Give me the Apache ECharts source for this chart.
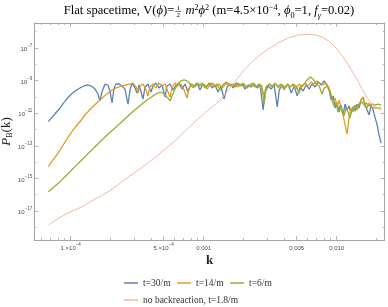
<!DOCTYPE html>
<html><head><meta charset="utf-8">
<script src="https://cdn.jsdelivr.net/npm/echarts@6/dist/echarts.min.js"></script>
<style>html,body{margin:0;padding:0;background:#fff}#c{width:388px;height:307px}</style>
</head><body><div id="c"></div><script>
// ---- data: [log10 k, log10 P_B(k)] ----
const blue = [[-4.168,-11.52],[-4.141,-11.26],[-4.111,-10.97],[-4.080,-10.68],[-4.050,-10.34],[-4.020,-10.04],[-3.990,-9.79],[-3.960,-9.61],[-3.930,-9.45],[-3.900,-9.33],[-3.870,-9.27],[-3.840,-9.36],[-3.817,-9.52],[-3.795,-9.82],[-3.780,-10.25],[-3.765,-9.70],[-3.742,-9.21],[-3.720,-9.27],[-3.705,-9.64],[-3.689,-10.37],[-3.674,-9.45],[-3.659,-9.21],[-3.637,-9.21],[-3.614,-9.33],[-3.592,-9.52],[-3.569,-10.44],[-3.554,-9.58],[-3.539,-9.15],[-3.517,-9.45],[-3.501,-9.76],[-3.486,-9.27],[-3.471,-9.33],[-3.456,-10.13],[-3.441,-9.39],[-3.419,-9.21],[-3.396,-9.70],[-3.381,-9.33],[-3.359,-9.15],[-3.336,-9.45],[-3.313,-9.27],[-3.291,-10.01],[-3.276,-9.33],[-3.253,-9.21],[-3.231,-9.58],[-3.208,-9.27],[-3.186,-9.15],[-3.163,-9.52],[-3.140,-9.21],[-3.118,-9.70],[-3.095,-9.21],[-3.073,-9.33],[-3.050,-9.15],[-3.028,-9.58],[-3.005,-9.21],[-2.982,-9.39],[-2.960,-9.15],[-2.937,-9.45],[-2.915,-9.27],[-2.892,-9.70],[-2.870,-9.33],[-2.847,-10.13],[-2.824,-9.39],[-2.802,-9.21],[-2.779,-9.45],[-2.756,-9.15],[-2.734,-9.33],[-2.711,-9.21],[-2.689,-9.52],[-2.666,-9.27],[-2.644,-9.39],[-2.621,-9.21],[-2.598,-9.45],[-2.576,-9.27],[-2.553,-10.80],[-2.538,-9.70],[-2.515,-9.33],[-2.493,-9.52],[-2.470,-9.27],[-2.447,-10.62],[-2.432,-9.58],[-2.410,-9.27],[-2.387,-9.45],[-2.365,-9.21],[-2.342,-9.76],[-2.319,-9.33],[-2.297,-9.94],[-2.275,-9.39],[-2.252,-9.64],[-2.230,-9.27],[-2.207,-9.52],[-2.185,-9.21],[-2.162,-9.39],[-2.139,-9.09],[-2.117,-9.27],[-2.094,-9.02],[-2.072,-9.33],[-2.057,-9.58],[-2.042,-10.19],[-2.027,-9.94],[-2.012,-10.68],[-1.997,-10.37],[-1.982,-10.93],[-1.967,-10.50],[-1.952,-11.11],[-1.937,-10.44],[-1.922,-10.80],[-1.907,-10.56],[-1.892,-10.99],[-1.877,-10.62],[-1.862,-10.87],[-1.847,-10.44],[-1.832,-10.68],[-1.817,-10.19],[-1.801,-10.01],[-1.786,-10.56],[-1.771,-10.80],[-1.756,-11.11],[-1.741,-10.50],[-1.726,-10.80],[-1.711,-11.29],[-1.696,-11.72],[-1.681,-12.34],[-1.666,-12.83]];
const orange = [[-4.168,-14.28],[-4.141,-13.96],[-4.111,-13.63],[-4.080,-13.26],[-4.043,-12.77],[-4.005,-12.28],[-3.968,-11.88],[-3.930,-11.51],[-3.892,-11.11],[-3.855,-10.77],[-3.817,-10.47],[-3.780,-10.19],[-3.742,-9.91],[-3.705,-9.67],[-3.667,-9.48],[-3.629,-9.36],[-3.592,-9.27],[-3.554,-9.21],[-3.532,-9.15],[-3.508,-9.39],[-3.493,-9.76],[-3.479,-9.33],[-3.456,-9.21],[-3.434,-9.58],[-3.419,-9.94],[-3.404,-9.39],[-3.381,-9.21],[-3.359,-9.45],[-3.336,-9.15],[-3.313,-9.33],[-3.291,-9.21],[-3.268,-9.70],[-3.253,-10.01],[-3.238,-9.39],[-3.216,-9.15],[-3.193,-9.33],[-3.171,-9.21],[-3.148,-9.58],[-3.125,-10.07],[-3.110,-9.45],[-3.088,-9.21],[-3.065,-9.39],[-3.043,-9.15],[-3.020,-9.33],[-2.997,-9.21],[-2.975,-9.52],[-2.952,-9.27],[-2.930,-9.15],[-2.907,-9.39],[-2.885,-9.21],[-2.862,-9.45],[-2.840,-9.27],[-2.817,-9.15],[-2.794,-9.33],[-2.772,-9.21],[-2.749,-9.39],[-2.727,-9.27],[-2.704,-9.15],[-2.681,-9.45],[-2.659,-9.27],[-2.636,-9.21],[-2.614,-9.39],[-2.591,-9.27],[-2.568,-9.45],[-2.546,-9.88],[-2.531,-9.39],[-2.508,-9.21],[-2.485,-9.33],[-2.463,-9.15],[-2.440,-9.45],[-2.418,-9.27],[-2.395,-9.58],[-2.372,-9.21],[-2.350,-9.39],[-2.327,-9.27],[-2.305,-9.52],[-2.282,-9.21],[-2.260,-9.39],[-2.237,-9.15],[-2.215,-9.33],[-2.192,-9.09],[-2.170,-9.21],[-2.147,-9.02],[-2.125,-9.15],[-2.102,-9.27],[-2.079,-9.15],[-2.057,-9.45],[-2.042,-9.88],[-2.027,-10.31],[-2.012,-10.07],[-1.997,-10.56],[-1.982,-10.19],[-1.967,-10.68],[-1.952,-11.11],[-1.937,-11.72],[-1.922,-12.28],[-1.907,-11.29],[-1.892,-10.68],[-1.877,-10.93],[-1.862,-10.50],[-1.847,-10.80],[-1.832,-10.44],[-1.817,-10.19],[-1.801,-10.01],[-1.786,-10.44],[-1.771,-10.68],[-1.756,-10.37],[-1.741,-10.62],[-1.726,-10.50],[-1.711,-10.68],[-1.696,-10.62],[-1.681,-10.68],[-1.666,-10.68]];
const green = [[-4.168,-15.82],[-4.118,-15.47],[-4.080,-15.20],[-4.043,-14.90],[-4.005,-14.59],[-3.968,-14.28],[-3.930,-13.98],[-3.892,-13.67],[-3.855,-13.36],[-3.817,-13.06],[-3.780,-12.77],[-3.742,-12.46],[-3.705,-12.18],[-3.667,-11.91],[-3.629,-11.63],[-3.577,-11.23],[-3.532,-10.90],[-3.479,-10.53],[-3.426,-10.19],[-3.381,-9.94],[-3.351,-9.79],[-3.321,-9.70],[-3.298,-9.82],[-3.276,-10.01],[-3.253,-10.25],[-3.238,-9.94],[-3.216,-9.52],[-3.193,-9.21],[-3.171,-9.02],[-3.148,-8.96],[-3.125,-9.02],[-3.103,-9.21],[-3.080,-9.45],[-3.058,-9.21],[-3.035,-9.33],[-3.013,-9.15],[-2.990,-9.45],[-2.967,-9.27],[-2.945,-9.15],[-2.922,-9.39],[-2.900,-9.21],[-2.877,-9.58],[-2.855,-9.27],[-2.832,-9.09],[-2.809,-9.33],[-2.787,-9.21],[-2.764,-9.39],[-2.741,-9.15],[-2.719,-9.33],[-2.696,-9.21],[-2.674,-9.45],[-2.651,-9.27],[-2.629,-9.15],[-2.606,-9.39],[-2.583,-9.21],[-2.561,-9.33],[-2.546,-10.44],[-2.531,-9.45],[-2.508,-9.21],[-2.485,-9.39],[-2.463,-9.21],[-2.440,-9.33],[-2.418,-9.21],[-2.395,-9.45],[-2.372,-9.27],[-2.350,-9.39],[-2.327,-9.21],[-2.305,-9.33],[-2.282,-9.76],[-2.267,-9.33],[-2.245,-9.21],[-2.222,-8.96],[-2.200,-8.78],[-2.177,-8.90],[-2.155,-9.21],[-2.132,-9.33],[-2.110,-9.82],[-2.094,-9.45],[-2.072,-9.33],[-2.050,-9.70],[-2.035,-10.19],[-2.020,-10.56],[-2.005,-10.37],[-1.990,-10.93],[-1.975,-10.56],[-1.960,-10.80],[-1.945,-11.17],[-1.930,-10.68],[-1.915,-10.93],[-1.900,-11.29],[-1.885,-10.80],[-1.869,-10.56],[-1.854,-10.74],[-1.839,-10.50],[-1.824,-10.62],[-1.809,-10.31],[-1.794,-10.50],[-1.779,-10.37],[-1.756,-10.56],[-1.734,-10.44],[-1.711,-10.50],[-1.689,-10.44],[-1.666,-10.50]];
const noBackreaction = [[-4.168,-17.86],[-4.080,-17.40],[-4.005,-17.06],[-3.930,-16.79],[-3.830,-16.33],[-3.705,-15.74],[-3.579,-14.99],[-3.456,-14.27],[-3.329,-13.46],[-3.201,-12.58],[-3.078,-11.62],[-2.975,-10.87],[-2.877,-10.19],[-2.780,-9.21],[-2.674,-8.17],[-2.576,-7.43],[-2.479,-6.88],[-2.404,-6.54],[-2.329,-6.29],[-2.276,-6.20],[-2.223,-6.17],[-2.171,-6.20],[-2.125,-6.29],[-2.073,-6.51],[-2.020,-6.88],[-1.975,-7.31],[-1.922,-7.92],[-1.877,-8.53],[-1.825,-9.27],[-1.779,-9.94],[-1.734,-10.44],[-1.696,-10.68],[-1.666,-10.80]];
const seriesNames = ['t=30/m','t=14/m','t=6/m','no backreaction, t=1.8/m'];
// tick values (k and P in real units)
const xLabelK = [1e-4, 5e-4, 1e-3, 5e-3, 1e-2];
const xLabelText = ['1.×10^−4','5.×10^−4','0.001','0.005','0.010'];
const xMinorK = [6e-5,7e-5,8e-5,9e-5,2e-4,3e-4,4e-4,6e-4,7e-4,8e-4,9e-4,2e-3,3e-3,4e-3,6e-3,7e-3,8e-3,9e-3,2e-2];
const yLabelP = [1e-17,1e-15,1e-13,1e-11,1e-9,1e-7];
const yMinorP = [1e-18,1e-16,1e-14,1e-12,1e-10,1e-8,1e-6];
const X_MIN = -4.2737, X_MAX = -1.639, Y_MIN = -18.78, Y_MAX = -5.466;

const FRAME = '#a6a6a6', TXT = '#4d4d4d';
const SERIF = '"Liberation Serif","Times New Roman",serif';
const SANS = '"Liberation Sans",Arial,sans-serif';
const colors = ['#5e81b5','#e19c24','#8fb032','#f4b4a0'];

const lg = a => a.map(v => Math.log10(v));
const xMajor = lg(xLabelK), xMinor = lg(xMinorK), yMajor = lg(yLabelP), yMinor = lg(yMinorP);

function xFmt(v){
  let best = 0;
  xMajor.forEach((m,i)=>{ if (Math.abs(m-v) < Math.abs(xMajor[best]-v)) best = i; });
  const t = xLabelText[best];
  if (t.indexOf('^') >= 0) { const p = t.split('^'); return '{b|' + p[0] + '}{s|' + p[1] + '}'; }
  return '{b|' + t + '}';
}
function yFmt(v){ return '{b|10}{s|' + String(Math.round(v)).replace('-', '−') + '}'; }
const tickRich = {
  b: {fontSize: 6, fontFamily: SANS, color: TXT, lineHeight: 9, verticalAlign: 'bottom'},
  s: {fontSize: 4.5, fontFamily: SANS, color: TXT, lineHeight: 5, verticalAlign: 'top'}
};

function xAxisDef(pos, ticks, len, main){
  return {
    type: 'value', position: pos, min: X_MIN, max: X_MAX,
    axisLine: {show: main, onZero: false, lineStyle: {color: FRAME, width: 1}},
    axisTick: {show: true, inside: true, length: len, customValues: ticks, lineStyle: {color: FRAME, width: 0.8}},
    axisLabel: (main && pos === 'bottom') ? {show: true, customValues: xMajor, formatter: xFmt, margin: 2, rich: tickRich} : {show: false},
    splitLine: {show: false}
  };
}
function yAxisDef(pos, ticks, len, main){
  return {
    type: 'value', position: pos, min: Y_MIN, max: Y_MAX,
    axisLine: {show: main, onZero: false, lineStyle: {color: FRAME, width: 1}},
    axisTick: {show: true, inside: true, length: len, customValues: ticks, lineStyle: {color: FRAME, width: 0.8}},
    axisLabel: (main && pos === 'left') ? {show: true, customValues: yMajor, formatter: yFmt, margin: 2, rich: tickRich} : {show: false},
    splitLine: {show: false}
  };
}
const xAxes = [xAxisDef('bottom', xMajor, 4, true), xAxisDef('bottom', xMinor, 2, false), xAxisDef('top', xMajor, 4, true), xAxisDef('top', xMinor, 2, false)];
Object.assign(xAxes[0], {name: 'k', nameLocation: 'middle', nameGap: 14, nameMoveOverlap: false, nameTextStyle: {fontFamily: SERIF, fontSize: 13, fontWeight: 'bold', color: '#222'}});
const yAxes = [yAxisDef('left', yMajor, 4, true), yAxisDef('left', yMinor, 2, false), yAxisDef('right', yMajor, 4, true), yAxisDef('right', yMinor, 2, false)];
Object.assign(yAxes[0], {name: '{p|P}{s|B}{n|(k)}', nameLocation: 'middle', nameRotate: 90, nameGap: 20, nameMoveOverlap: false,
  nameTextStyle: {rich: {
    p: {fontFamily: SERIF, fontSize: 13, fontStyle: 'italic', color: '#222', lineHeight: 16, verticalAlign: 'middle'},
    s: {fontFamily: SERIF, fontSize: 8, color: '#222', lineHeight: 8, verticalAlign: 'bottom'},
    n: {fontFamily: SERIF, fontSize: 13, color: '#222', lineHeight: 16, verticalAlign: 'middle'}
  }}});

// ---- title built from text pieces ----
const mctx = document.createElement('canvas').getContext('2d');
function tw(t, size, italic){ mctx.font = (italic ? 'italic ' : '') + size + 'px ' + SERIF; return mctx.measureText(t).width; }
const BASE = 11, SUP = 7.5, SUB = 15.5, TS = 12.6, SS = 8.2;
const segs = [
  {t:'Flat spacetime, V(', s:TS, y:BASE}, {t:'ϕ', s:TS, y:BASE, i:1}, {t:')=', s:TS, y:BASE},
  {frac:1},
  {t:' ', s:TS, y:BASE}, {t:'m', s:TS, y:BASE, i:1}, {t:'2', s:SS, y:SUP}, {t:'ϕ', s:TS, y:BASE, i:1}, {t:'2', s:SS, y:SUP},
  {t:' (m=4.5×10', s:TS, y:BASE}, {t:'−4', s:SS, y:SUP}, {t:', ', s:TS, y:BASE},
  {t:'ϕ', s:TS, y:BASE, i:1}, {t:'0', s:SS, y:SUB}, {t:'=1, ', s:TS, y:BASE},
  {t:'f', s:TS, y:BASE, i:1}, {t:'γ', s:SS, y:SUB, i:1}, {t:'=0.02)', s:TS, y:BASE}
];
const FRAC_W = 6;
segs.forEach(g => { g.w = g.frac ? FRAC_W + 2 : tw(g.t, g.s, g.i); });
const total = segs.reduce((a,g)=>a+g.w, 0);
let cx = 209 - total/2;
const titleEls = [];
segs.forEach(g => {
  if (g.frac) {
    const mid = cx + 1 + FRAC_W/2;
    titleEls.push({type:'text', x: mid, y: 8, style:{text:'1', font:'7px ' + SERIF, fill:'#000', align:'center', verticalAlign:'middle', textAlign:'center', textVerticalAlign:'middle'}});
    titleEls.push({type:'text', x: mid, y: 14.8, style:{text:'2', font:'7px ' + SERIF, fill:'#000', align:'center', verticalAlign:'middle', textAlign:'center', textVerticalAlign:'middle'}});
    titleEls.push({type:'line', shape:{x1: cx + 1, y1: 11.4, x2: cx + 1 + FRAC_W, y2: 11.4}, style:{stroke:'#000', lineWidth:0.6}});
  } else {
    titleEls.push({type:'text', x: cx, y: g.y, style:{text:g.t, font:(g.i ? 'italic ' : '') + g.s + 'px ' + SERIF, fill:'#000', align:'left', verticalAlign:'middle', textAlign:'left', textVerticalAlign:'middle'}});
  }
  cx += g.w;
});

const datasets = [blue, orange, green, noBackreaction];
const chart = echarts.init(document.getElementById('c'), null, {renderer: 'canvas'});
chart.setOption({
  animation: false,
  backgroundColor: '#fff',
  grid: {left: 34.3, right: 3.3, top: 23, bottom: 67, containLabel: false, outerBoundsMode: 'none'},
  xAxis: xAxes,
  yAxis: yAxes,
  graphic: titleEls,
  legend: [
    {data: seriesNames.slice(0,3), left: 119, top: 273, icon: 'rect', itemWidth: 14, itemHeight: 1.5, itemGap: 6.5,
     textStyle: {fontFamily: SERIF, fontSize: 9.5, color: '#333'}},
    {data: seriesNames.slice(3), left: 119, top: 290, icon: 'rect', itemWidth: 14, itemHeight: 1.5,
     textStyle: {fontFamily: SERIF, fontSize: 9.5, color: '#333'}}
  ],
  series: datasets.map((d, i) => ({
    name: seriesNames[i], type: 'line', data: d, xAxisIndex: 0, yAxisIndex: 0,
    showSymbol: false, symbol: 'none', smooth: i === 3,
    lineStyle: {color: colors[i], width: i === 3 ? 1 : 1.3},
    itemStyle: {color: colors[i]}, clip: true, z: 2 + i
  }))
});
</script></body></html>
